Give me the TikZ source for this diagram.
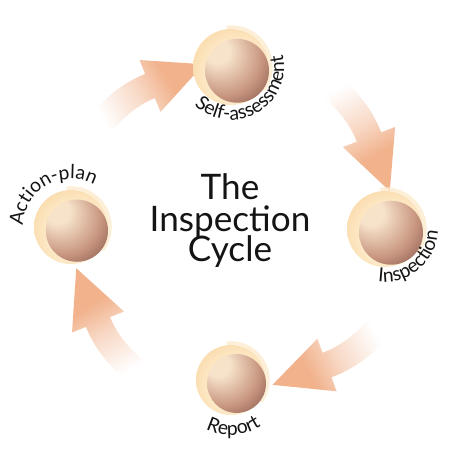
\documentclass[tikz,border=0pt]{standalone}
\usepackage{fontspec}
\setmainfont{Lato}
\usetikzlibrary{positioning}
\usetikzlibrary{decorations.text}
\definecolor{arrowpeach}{RGB}{241,178,140}
\definecolor{glowlight}{RGB}{253,236,205}
\definecolor{glowmid}{RGB}{250,218,170}
\definecolor{glowrim}{RGB}{242,188,128}
\definecolor{balllight}{RGB}{247,226,202}
\definecolor{ballmid}{RGB}{200,150,128}
\definecolor{balldark}{RGB}{110,64,56}
\definecolor{labelgray}{RGB}{20,20,20}
\pgfdeclareradialshading{sphereglow}{\pgfpoint{6bp}{-6bp}}{color(0bp)=(glowlight); color(18bp)=(glowlight); color(32bp)=(glowmid); color(42bp)=(glowrim); color(60bp)=(glowrim)}
\pgfdeclareradialshading{sphereball}{\pgfpoint{-18bp}{18bp}}{color(0bp)=(balllight); color(10bp)=(balllight); color(30bp)=(ballmid); color(50bp)=(balldark); color(75bp)=(balldark)}
\pgfdeclareverticalshading{arrowfade}{100bp}{color(0bp)=(white); color(26bp)=(white); color(48bp)=(arrowpeach!50); color(64bp)=(arrowpeach); color(100bp)=(arrowpeach)}
\newcommand{\labelfont}{\fontsize{11}{13}\selectfont}
\tikzset{
  arrow_body/.style={shading=arrowfade},
  swoosh/.style={glowlight, line width=2pt, line cap=round},
  title_text/.style={font=\fontsize{20}{24}\selectfont, text=labelgray, inner sep=0pt, anchor=base},
  cycle_label/.style={decorate, decoration={text along path, text align=center, text color=labelgray, text={|\labelfont|#1}}},
}
% block arrow: head base, direction, shading angle
\newcommand{\cyclearrow}[3]{%
  \begin{scope}[shift={(#1)}, rotate=#2]
    \shade[arrow_body, shading angle=#3] (58,0) -- (0,28) -- (0,13)
      .. controls (-24,13) and (-48,6) .. (-70,-8) -- (-57,-30)
      .. controls (-38,-19) and (-18,-13) .. (0,-13) -- (0,-28) -- cycle;
  \end{scope}}
% sphere: centre, radius
\newcommand{\cyclesphere}[2]{%
  \begin{scope}[shift={(#1)}]
    \shade[shading=sphereglow] (0,0) circle[radius=#2];
    \draw[swoosh, opacity=0.8] (95:{#2+2}) arc[start angle=95, end angle=-35, radius={#2+2}];
    \shade[shading=sphereball] ({0.16*#2},{-0.1*#2}) circle[radius={0.84*#2}];
  \end{scope}}

\begin{document}
\begin{tikzpicture}[x=0.02cm, y=0.02cm]
    \fill[white] (0,0) rectangle (452,452);
    \useasboundingbox (0,0) rectangle (452,452);

    \coordinate (selfassess) at (231,385);
    \coordinate (inspection) at (385,223);
    \coordinate (report) at (231,72);
    \coordinate (actionplan) at (71,225);

    \coordinate (toself) at (150,366);
    \coordinate (toinsp) at (369,315);
    \coordinate (toreport) at (327,87);
    \coordinate (toaction) at (98,130);

    % arrows first, spheres on top of the tips
    \cyclearrow{toself}{22}{-60}
    \cyclearrow{toinsp}{-69}{-151}
    \cyclearrow{toreport}{200}{118}
    \cyclearrow{toaction}{112}{30}

    \cyclesphere{selfassess}{38}
    \cyclesphere{inspection}{38}
    \cyclesphere{report}{35}
    \cyclesphere{actionplan}{37}

    \path[cycle_label=Self-assessment] ([shift={(200:53)}]selfassess) arc[start angle=200, end angle=400, radius=53];
    \path[cycle_label=Inspection] ([shift={(220:53)}]inspection) arc[start angle=220, end angle=400, radius=53];
    \path[cycle_label=Report] ([shift={(213:55)}]report) arc[start angle=213, end angle=333, radius=55];
    \path[cycle_label=Action-plan] ([shift={(210:48)}]actionplan) arc[start angle=210, end angle=30, radius=48];

    \node[title_text] (titlethe) at (230,252) {The};
    \node[title_text] (titleinsp) at (230,220) {Inspection};
    \node[title_text] (titlecycle) at (230,190) {Cycle};
\end{tikzpicture}
\end{document}
